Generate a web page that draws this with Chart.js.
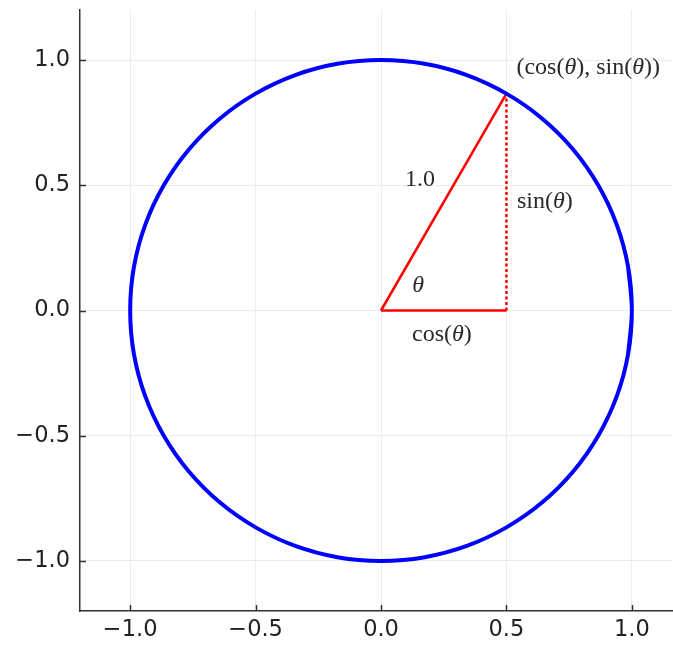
<!DOCTYPE html>
<html>
<head>
<meta charset="utf-8">
<script src="https://cdn.jsdelivr.net/npm/chart.js@4.4.1/dist/chart.umd.min.js"></script>
<style>
  html, body { margin: 0; padding: 0; background: #fff; }
  #wrap { width: 673px; height: 645px; }
</style>
</head>
<body>
<div id="wrap"><canvas id="unitCircle" width="673" height="645"></canvas></div>
<script>
// Unit circle points, read every 10 degrees (one extra point at each end so the curve closes smoothly)
const circleX = [0.985, 1, 0.985, 0.940, 0.866, 0.766, 0.643, 0.5, 0.342, 0.174, 0,
  -0.174, -0.342, -0.5, -0.643, -0.766, -0.866, -0.940, -0.985, -1,
  -0.985, -0.940, -0.866, -0.766, -0.643, -0.5, -0.342, -0.174, 0,
  0.174, 0.342, 0.5, 0.643, 0.766, 0.866, 0.940, 0.985, 1, 0.985];
const circleY = [-0.174, 0, 0.174, 0.342, 0.5, 0.643, 0.766, 0.866, 0.940, 0.985, 1,
  0.985, 0.940, 0.866, 0.766, 0.643, 0.5, 0.342, 0.174, 0,
  -0.174, -0.342, -0.5, -0.643, -0.766, -0.866, -0.940, -0.985, -1,
  -0.985, -0.940, -0.866, -0.766, -0.643, -0.5, -0.342, -0.174, 0, 0.174];

// triangle: radius, cos leg, sin leg
const radiusX = [0, 0.5];
const radiusY = [0, 0.866];
const cosLegX = [0, 0.5];
const cosLegY = [0, 0];
const sinLegX = [0.5, 0.5];
const sinLegY = [0, 0.866];

const tickValues = [-1, -0.5, 0, 0.5, 1];
const tickLabels = ['\u22121.0', '\u22120.5', '0.0', '0.5', '1.0'];

// annotation text and anchor (data coords)
const noteTexts = ['(cos(θ), sin(θ))', '1.0', 'sin(θ)', 'θ', 'cos(θ)'];
const noteX = [0.54, 0.155, 0.542, 0.148, 0.243];
const noteY = [0.97, 0.523, 0.435, 0.10, -0.096];
const noteAlign = ['left', 'center', 'left', 'center', 'center'];

function toPoints(xs, ys) {
  return xs.map((x, i) => ({ x: x, y: ys[i] }));
}

// draw text with θ in italic
function drawMath(ctx, text, x, y, align) {
  const upright = '24px "Liberation Serif", "DejaVu Serif", serif';
  const italic = 'italic 24px "Liberation Serif", "DejaVu Serif", serif';
  const parts = text.split(/(θ)/).filter(p => p.length);
  let total = 0;
  parts.forEach(p => {
    ctx.font = p === 'θ' ? italic : upright;
    total += ctx.measureText(p).width;
  });
  let cx = align === 'left' ? x : x - total / 2;
  parts.forEach(p => {
    ctx.font = p === 'θ' ? italic : upright;
    ctx.fillText(p, cx, y);
    cx += ctx.measureText(p).width;
  });
}

const annotations = {
  id: 'annotations',
  afterDatasetsDraw(chart) {
    const ctx = chart.ctx;
    const xs = chart.scales.x, ys = chart.scales.y;
    ctx.save();
    ctx.fillStyle = '#2a2a2a';
    ctx.textBaseline = 'middle';
    ctx.textAlign = 'left';
    noteTexts.forEach((t, i) => {
      drawMath(ctx, t, xs.getPixelForValue(noteX[i]), ys.getPixelForValue(noteY[i]), noteAlign[i]);
    });
    ctx.restore();
  }
};

// short tick marks pointing into the plot
const innerTicks = {
  id: 'innerTicks',
  beforeDatasetsDraw(chart) {
    const ctx = chart.ctx;
    const area = chart.chartArea;
    const xs = chart.scales.x, ys = chart.scales.y;
    ctx.save();
    ctx.strokeStyle = '#333';
    ctx.lineWidth = 1.5;
    ctx.beginPath();
    tickValues.forEach(v => {
      const px = Math.round(xs.getPixelForValue(v)) + 0.5;
      ctx.moveTo(px, area.bottom);
      ctx.lineTo(px, area.bottom - 6);
      const py = Math.round(ys.getPixelForValue(v)) + 0.5;
      ctx.moveTo(area.left, py);
      ctx.lineTo(area.left + 6, py);
    });
    ctx.stroke();
    ctx.restore();
  }
};

const axisCommon = {
  type: 'linear',
  afterBuildTicks: scale => { scale.ticks = tickValues.map(v => ({ value: v })); },
  grid: { color: '#ececec', lineWidth: 1, drawTicks: false },
  border: { display: true, color: '#333', width: 1.5 },
  ticks: {
    color: '#222',
    font: { family: '"DejaVu Sans", sans-serif', size: 22.5 },
    callback: (value, index) => tickLabels[index]
  }
};

new Chart(document.getElementById('unitCircle'), {
  type: 'scatter',
  data: {
    datasets: [
      {
        data: toPoints(circleX, circleY),
        showLine: true,
        borderColor: '#0000ff',
        borderWidth: 4,
        pointRadius: 0,
        tension: 0.35,
        fill: false
      },
      {
        data: toPoints(radiusX, radiusY),
        showLine: true,
        borderColor: '#ff0000',
        borderWidth: 2.5,
        pointRadius: 0
      },
      {
        data: toPoints(cosLegX, cosLegY),
        showLine: true,
        borderColor: '#ff0000',
        borderWidth: 2.5,
        pointRadius: 0
      },
      {
        data: toPoints(sinLegX, sinLegY),
        showLine: true,
        borderColor: '#ff0000',
        borderWidth: 2.5,
        borderDash: [3, 2.5],
        pointRadius: 0
      }
    ]
  },
  options: {
    responsive: false,
    animation: false,
    devicePixelRatio: 1,
    layout: { padding: { top: 10, right: 1, left: 0, bottom: 0 } },
    plugins: {
      legend: { display: false },
      tooltip: { enabled: false }
    },
    scales: {
      x: Object.assign({}, axisCommon, {
        min: -1.2, max: 1.16,
        afterFit: scale => { scale.height = 34; scale.paddingLeft = 0; scale.paddingRight = 0; },
        ticks: Object.assign({}, axisCommon.ticks, { padding: 6, maxRotation: 0 })
      }),
      y: Object.assign({}, axisCommon, {
        min: -1.2, max: 1.2,
        afterFit: scale => { scale.width = 80; scale.paddingTop = 0; scale.paddingBottom = 0; },
        ticks: Object.assign({}, axisCommon.ticks, { padding: 10 })
      })
    }
  },
  plugins: [innerTicks, annotations]
});
</script>
</body>
</html>
